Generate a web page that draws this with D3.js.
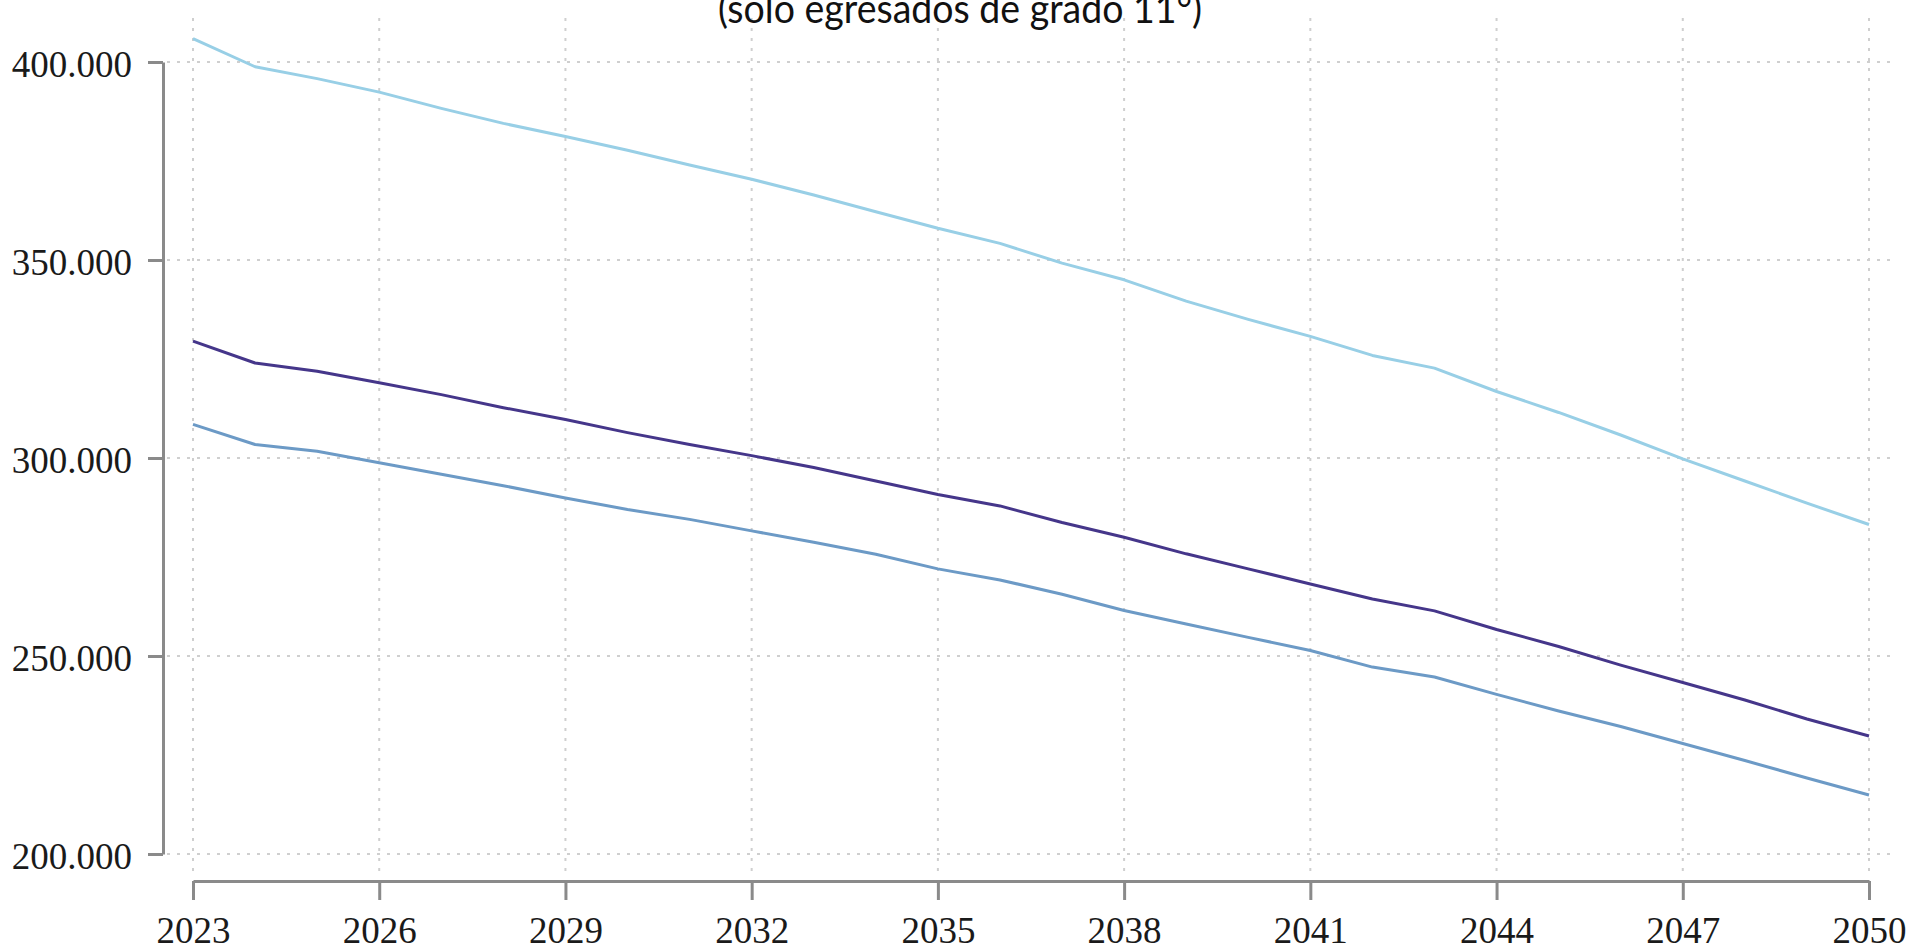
<!DOCTYPE html>
<html>
<head>
<meta charset="utf-8">
<script src="https://cdn.jsdelivr.net/npm/d3@7"></script>
<style>
  html, body { margin: 0; padding: 0; background: #ffffff; overflow: hidden; }
  svg { display: block; }
</style>
</head>
<body>
<svg id="chart" width="1913" height="952"></svg>
<script>
const titleText = "(solo egresados de grado 11°)";
const years = [2023,2024,2025,2026,2027,2028,2029,2030,2031,2032,2033,2034,2035,2036,2037,2038,2039,2040,2041,2042,2043,2044,2045,2046,2047,2048,2049,2050];
const seriesUpper = [405900,398800,395800,392400,388300,384500,381200,377700,374000,370400,366400,362200,358000,354200,349200,345000,339600,335000,330700,325900,322700,316800,311500,305800,299800,294200,288600,283200];
const seriesMiddle = [329500,324000,321900,319000,316000,312700,309700,306400,303400,300600,297600,294200,290800,287900,283700,280000,275800,272000,268200,264400,261400,256700,252400,247700,243300,238900,234100,229800];
const seriesLower = [308500,303400,301700,298800,295900,293000,289900,287000,284500,281600,278700,275700,272000,269200,265600,261500,258100,254700,251400,247200,244700,240300,236100,232200,227900,223600,219200,214900];
const xTickValues = [2023,2026,2029,2032,2035,2038,2041,2044,2047,2050];
const yTickValues = [200000,250000,300000,350000,400000];

const svg = d3.select("#chart");
const x = d3.scaleLinear().domain([2023, 2050]).range([193, 1869]);
const y = d3.scaleLinear().domain([200000, 400000]).range([854, 62]);

const locale = d3.formatLocale({decimal: ",", thousands: ".", grouping: [3], currency: ["$", ""]});
const fmt = locale.format(",");

// grid
const grid = svg.append("g").attr("class", "grid");
grid.selectAll("line.v").data(xTickValues).enter().append("line")
  .attr("x1", d => x(d)).attr("x2", d => x(d))
  .attr("y1", 18).attr("y2", 878)
  .attr("stroke", "#cfcfcf").attr("stroke-width", 2).attr("stroke-dasharray", "3,7");
grid.selectAll("line.h").data(yTickValues).enter().append("line")
  .attr("x1", 167).attr("x2", 1895)
  .attr("y1", d => y(d)).attr("y2", d => y(d))
  .attr("stroke", "#cfcfcf").attr("stroke-width", 2).attr("stroke-dasharray", "3,7");

// axes
const yAxis = d3.axisLeft(y).tickValues(yTickValues).tickFormat(fmt).tickSize(15).tickSizeOuter(0).tickPadding(16);
const gy = svg.append("g").attr("transform", "translate(163,0)").call(yAxis);
const xAxis = d3.axisBottom(x).tickValues(xTickValues).tickFormat(d3.format("d")).tickSize(19).tickSizeOuter(0).tickPadding(17);
const gx = svg.append("g").attr("transform", "translate(0,881)").call(xAxis);

[gx, gy].forEach(g => {
  g.select(".domain").attr("stroke", "#8a8a8a").attr("stroke-width", 3);
  g.selectAll(".tick line").attr("stroke", "#8a8a8a").attr("stroke-width", 3);
  g.selectAll(".tick text").attr("fill", "#1a1a1a").attr("font-family", "'Liberation Serif', 'Times New Roman', serif").attr("font-size", "37px");
});
gy.selectAll(".tick text").attr("dy", "0.4em");

// lines
const line = d3.line().x((d, i) => x(years[i])).y(d => y(d));
const series = [
  {values: seriesUpper, color: "#98cfe6"},
  {values: seriesLower, color: "#6c9ac6"},
  {values: seriesMiddle, color: "#45368a"}
];
svg.append("g").selectAll("path").data(series).enter().append("path")
  .attr("d", d => line(d.values))
  .attr("fill", "none")
  .attr("stroke", d => d.color)
  .attr("stroke-width", 3)
  .attr("stroke-linejoin", "round");

// title (cut at top as in reference)
svg.append("text")
  .attr("x", 718).attr("y", 23)
  .attr("font-family", "Lato, 'Open Sans', sans-serif")
  .attr("font-size", "41px")
  .attr("fill", "#111")
  .attr("textLength", 484)
  .attr("lengthAdjust", "spacingAndGlyphs")
  .text(titleText);
</script>
</body>
</html>
